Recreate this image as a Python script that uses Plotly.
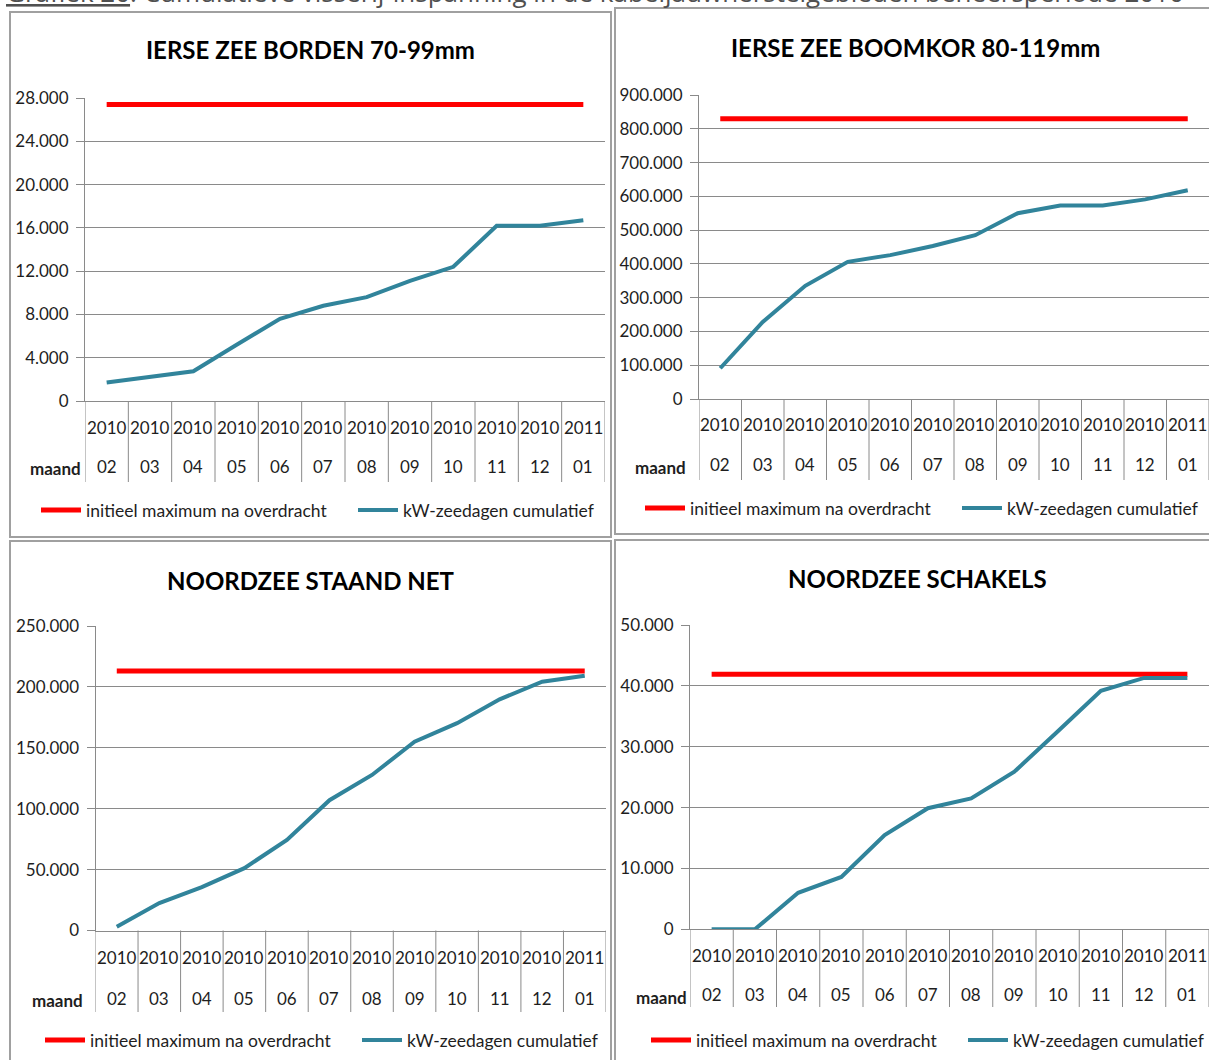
import plotly.graph_objects as go

# ---------------- data ----------------
years = ["2010", "2010", "2010", "2010", "2010", "2010", "2010", "2010", "2010", "2010", "2010", "2011"]
months = ["02", "03", "04", "05", "06", "07", "08", "09", "10", "11", "12", "01"]
categories = [f"{y} {m}" for y, m in zip(years, months)]

borden_kw = [1700, 2200, 2750, 5200, 7600, 8800, 9600, 11100, 12400, 16200, 16200, 16700]
borden_max = [27400, 27400, 27400, 27400, 27400, 27400, 27400, 27400, 27400, 27400, 27400, 27400]

boomkor_kw = [91000, 228000, 335000, 406000, 426000, 453000, 485000, 550000, 573000, 573000, 591000, 618000]
boomkor_max = [830000, 830000, 830000, 830000, 830000, 830000, 830000, 830000, 830000, 830000, 830000, 830000]

staand_kw = [3000, 22500, 35600, 51200, 74400, 107000, 127700, 155000, 170200, 189800, 204300, 209200]
staand_max = [213000, 213000, 213000, 213000, 213000, 213000, 213000, 213000, 213000, 213000, 213000, 213000]

schakels_kw = [0, 0, 6000, 8600, 15500, 19900, 21500, 25900, 32500, 39200, 41300, 41300]
schakels_max = [41900, 41900, 41900, 41900, 41900, 41900, 41900, 41900, 41900, 41900, 41900, 41900]

titles = ["IERSE ZEE BORDEN 70-99mm", "IERSE ZEE BOOMKOR 80-119mm",
          "NOORDZEE STAAND NET", "NOORDZEE SCHAKELS"]
series_max_name = "initieel maximum na overdracht"
series_kw_name = "kW-zeedagen cumulatief"
level_label = "maand"
caption = ("<span style='text-decoration:underline'>Grafiek 20</span>: Cumulatieve visserij-inspanning "
           "in de kabeljauwherstelgebieden beheersperiode 2010")

# ---------------- layout helpers ----------------
W, H = 1209, 1060
def fx(x):
    return x / W
def fy(y):
    return 1 - y / H

FONT = "Lato"
TXT = "#1e1e1e"
GRID = "#8a8a8a"
RED = "#ff0000"
TEAL = "#31849b"
BORDER = "#a0a0a0"

panels = [
    dict(kw=borden_kw, mx=borden_max, ymax=28000, dtick=4000,
         xpx=(85, 605), ypx=(401, 98),
         yr_y=427, mo_y=466, maand=(83, 468), div_bot=482,
         title=(310, 50), leg=(36, 510), box=(10, 12, 611, 537)),
    dict(kw=boomkor_kw, mx=boomkor_max, ymax=900000, dtick=100000,
         xpx=(699, 1209), ypx=(399, 95),
         yr_y=424, mo_y=465, maand=(688, 467), div_bot=480,
         title=(915, 47), leg=(640, 508), box=(615, 8, 1214, 534)),
    dict(kw=staand_kw, mx=staand_max, ymax=250000, dtick=50000,
         xpx=(95.5, 606), ypx=(930.5, 626),
         yr_y=957, mo_y=998, maand=(85, 1000), div_bot=1012,
         title=(311, 580), leg=(40, 1040), box=(10, 541, 611, 1066)),
    dict(kw=schakels_kw, mx=schakels_max, ymax=50000, dtick=10000,
         xpx=(690, 1209), ypx=(929.3, 625),
         yr_y=955, mo_y=994, maand=(689, 997), div_bot=1007,
         title=(917, 578), leg=(646, 1040), box=(615, 540, 1214, 1066)),
]

fig = go.Figure()
shapes = []
annotations = []

for i, p in enumerate(panels):
    n = "" if i == 0 else str(i + 1)
    xa, ya = "x" + n, "y" + n
    lg = "legend" + n

    fig.add_trace(go.Scatter(x=categories, y=p["mx"], mode="lines", name=series_max_name,
                             line=dict(color=RED, width=5), xaxis=xa, yaxis=ya, legend=lg))
    fig.add_trace(go.Scatter(x=categories, y=p["kw"], mode="lines", name=series_kw_name,
                             line=dict(color=TEAL, width=4), xaxis=xa, yaxis=ya, legend=lg))

    x0, x1 = p["xpx"]
    yb, yt = p["ypx"]
    fig.layout["xaxis" + n] = dict(
        domain=[fx(x0), fx(x1)], anchor=ya, type="category",
        categoryorder="array", categoryarray=categories,
        range=[-0.5, len(categories) - 0.5], showticklabels=False, ticks="", showgrid=False,
        showline=True, linecolor=GRID, linewidth=1, zeroline=False,
        automargin=False, fixedrange=True)
    fig.layout["yaxis" + n] = dict(
        domain=[fy(yb), fy(yt)], anchor=xa, range=[0, p["ymax"]], dtick=p["dtick"],
        tick0=0, tickformat=",d", showgrid=True, gridcolor=GRID, gridwidth=1,
        showline=True, linecolor=GRID, linewidth=1, ticks="outside", ticklen=8,
        tickcolor=GRID, ticklabelstandoff=4, zeroline=False, automargin=False,
        tickfont=dict(family=FONT, size=17, color=TXT), fixedrange=True)

    # category dividers of the two-level axis
    for k in range(len(categories) + 1):
        xv = k - 0.5
        shapes.append(dict(type="line", xref=xa, yref="paper", x0=xv, x1=xv,
                           y0=fy(yb), y1=fy(p["div_bot"]),
                           line=dict(color=GRID, width=1), layer="below"))
    # two-level category labels
    for cat, yr, mo in zip(categories, years, months):
        annotations.append(dict(x=cat, xref=xa, y=fy(p["yr_y"]), yref="paper", text=yr,
                                showarrow=False, xanchor="center", yanchor="middle",
                                font=dict(family=FONT, size=17, color=TXT)))
        annotations.append(dict(x=cat, xref=xa, y=fy(p["mo_y"]), yref="paper", text=mo,
                                showarrow=False, xanchor="center", yanchor="middle",
                                font=dict(family=FONT, size=17, color=TXT)))
    annotations.append(dict(x=fx(p["maand"][0]), xref="paper", y=fy(p["maand"][1]), yref="paper",
                            text="<b>" + level_label + "</b>", showarrow=False,
                            xanchor="right", yanchor="middle",
                            font=dict(family=FONT, size=17, color=TXT)))
    # chart title
    annotations.append(dict(x=fx(p["title"][0]), xref="paper", y=fy(p["title"][1]), yref="paper",
                            text="<b>" + titles[i] + "</b>", showarrow=False,
                            xanchor="center", yanchor="middle",
                            font=dict(family=FONT, size=24, color="#000000")))
    # chart frame
    bx0, by0, bx1, by1 = p["box"]
    shapes.append(dict(type="rect", xref="paper", yref="paper",
                       x0=fx(bx0), x1=fx(bx1), y0=fy(by1), y1=fy(by0),
                       line=dict(color=BORDER, width=2)))
    # legend
    fig.layout[lg] = dict(orientation="h", x=fx(p["leg"][0]), y=fy(p["leg"][1]),
                          xanchor="left", yanchor="middle", bgcolor="rgba(0,0,0,0)",
                          font=dict(family=FONT, size=17.5, color=TXT),
                          entrywidth=262, itemwidth=40, tracegroupgap=0)

annotations.append(dict(x=fx(4), xref="paper", y=fy(12), yref="paper", text=caption,
                        showarrow=False, xanchor="left", yanchor="bottom",
                        font=dict(family="Open Sans", size=26, color="#505050")))

fig.update_layout(
    width=W, height=H,
    margin=dict(l=0, r=0, t=0, b=0, pad=0, autoexpand=False),
    paper_bgcolor="white", plot_bgcolor="white",
    separators=",.", showlegend=True,
    shapes=shapes, annotations=annotations,
    font=dict(family=FONT, size=17, color=TXT),
)

fig.write_html("out.html", config={"displayModeBar": False},
               post_script="document.body.style.margin='0px';")
